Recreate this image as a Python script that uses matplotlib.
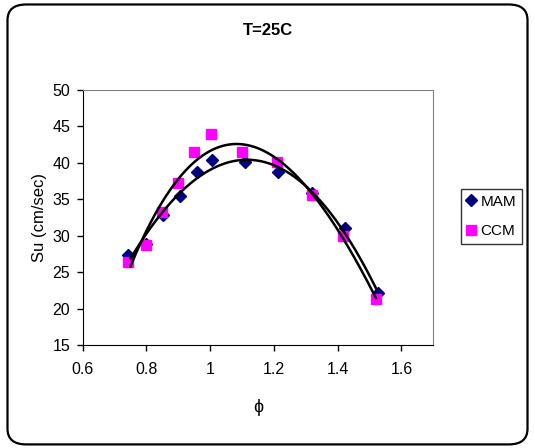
import numpy as np
import matplotlib
matplotlib.use("Agg")
import matplotlib.pyplot as plt
from matplotlib.patches import FancyBboxPatch

plt.rcParams['font.family'] = ['Liberation Sans', 'DejaVu Sans']

phi_mam = [0.743, 0.797, 0.851, 0.905, 0.957, 1.006, 1.108, 1.213, 1.318, 1.422, 1.525]
su_mam = [27.35, 28.8, 32.8, 35.4, 38.7, 40.4, 40.1, 38.7, 35.8, 31.1, 22.1]

phi_ccm = [0.741, 0.797, 0.85, 0.9, 0.95, 1.002, 1.1, 1.211, 1.318, 1.417, 1.521]
su_ccm = [26.4, 28.7, 33.3, 37.2, 41.45, 43.9, 41.45, 40.1, 35.6, 30.0, 21.3]

x_ticks = [0.6, 0.8, 1.0, 1.2, 1.4, 1.6]
x_tick_labels = ['0.6', '0.8', '1', '1.2', '1.4', '1.6']
y_ticks = [15, 20, 25, 30, 35, 40, 45, 50]

fig = plt.figure(figsize=(5.35, 4.48), dpi=100)

# rounded chart border like the Excel chart area
border = FancyBboxPatch((0.014, 0.008), 0.972, 0.982,
                        boxstyle="round,pad=0,rounding_size=0.035",
                        transform=fig.transFigure, fill=False,
                        edgecolor='black', linewidth=1.6)
fig.patches.append(border)

ax = fig.add_axes([0.1546, 0.23, 0.6554, 0.569])

# polynomial trendlines over the data range
for px, py in [(phi_mam, su_mam), (phi_ccm, su_ccm)]:
    coef = np.polyfit(px, py, 3)
    xs = np.linspace(0.75, 1.52, 200)
    ax.plot(xs, np.polyval(coef, xs), color='black', linewidth=1.8, zorder=3)

ax.plot(phi_mam, su_mam, linestyle='none', marker='D', markersize=6,
        color='#000080', label='MAM', zorder=2)
ax.plot(phi_ccm, su_ccm, linestyle='none', marker='s', markersize=6.5,
        color='#ff00ff', label='CCM', zorder=2)

ax.set_xlim(0.6, 1.7)
ax.set_ylim(15, 50)
ax.set_xticks(x_ticks)
ax.set_xticklabels(x_tick_labels)
ax.set_yticks(y_ticks)
ax.tick_params(direction='out', length=4, width=1, labelsize=11.5)
ax.tick_params(axis='x', pad=8)
ax.tick_params(axis='y', pad=5)
for s in ['top', 'right']:
    ax.spines[s].set_color('#808080')
for s in ['left', 'bottom']:
    ax.spines[s].set_color('black')

ax.set_ylabel('Su (cm/sec)', fontsize=12, labelpad=4)
ax.set_xlabel('ϕ', fontsize=13, labelpad=16)

fig.text(0.5, 0.933, 'T=25C', ha='center', va='center', fontsize=12, fontweight='bold')

fig.legend(loc='center left', bbox_to_anchor=(0.861, 0.517), frameon=True,
           fancybox=False, edgecolor='black', fontsize=11, handlelength=0.6,
           handletextpad=0.3, borderpad=0.4, labelspacing=1.0, borderaxespad=0)

fig.savefig('out.png', dpi=100)
